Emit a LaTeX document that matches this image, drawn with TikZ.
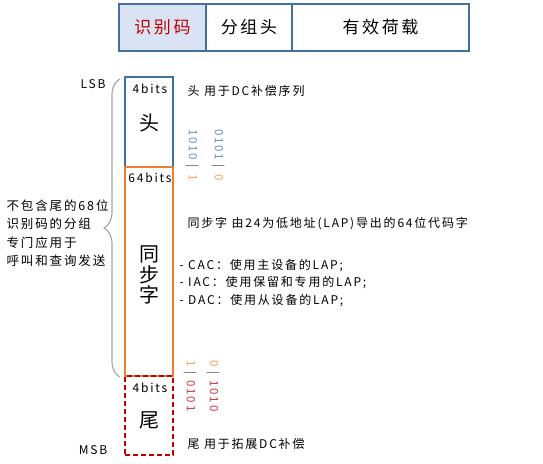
\documentclass[tikz,border=0pt]{standalone}
\usepackage{fontspec}
\setmainfont{Noto Sans CJK SC}
\newfontfamily\notefont[LetterSpace=15]{Noto Sans CJK SC}
\usepackage{tikz}
\usetikzlibrary{positioning, decorations.pathreplacing}
\definecolor{barblue}{HTML}{41719C}
\definecolor{idfill}{HTML}{DAE3F3}
\definecolor{idred}{HTML}{C00000}
\definecolor{syncorange}{HTML}{ED7D31}
\definecolor{tailred}{HTML}{C00000}
\definecolor{bitblue}{HTML}{6A8DC0}
\definecolor{bitorange}{HTML}{F4A15D}
\definecolor{bitred}{HTML}{D0393B}
\definecolor{bitgray}{HTML}{595959}
\definecolor{bracegray}{HTML}{A6A6A6}
\newcommand{\bitpair}[2]{#1\hspace{5pt}\textcolor{bitgray}{|}\hspace{6pt}#2}

\begin{document}
\begin{tikzpicture}[x=1pt,y=-1pt,
  cell/.style={draw=barblue, line width=2.5pt, minimum height=47pt, inner sep=0pt, outer sep=0pt, font=\notefont\fontsize{17}{17}\selectfont},
  field/.style={line width=2pt, minimum width=48pt, inner sep=0pt, outer sep=0pt},
  small/.style={font=\notefont\fontsize{12}{17.2}\selectfont},
  big/.style={font=\fontsize{20}{20.5}\selectfont},
  bits/.style={font=\notefont\fontsize{11.5}{11.5}\selectfont, rotate=-90, anchor=west, inner sep=0pt}]

\useasboundingbox (0,0) rectangle (543,463);

\node[cell, fill=idfill, text=idred, minimum width=87pt] (id) at (162.5,27.5) {识别码};
\node[cell, minimum width=86pt, right=0pt of id] (pkthead) {分组头};
\node[cell, minimum width=177pt, right=0pt of pkthead] (payload) {有效荷载};

\node[field, draw=barblue, minimum height=90pt] (head) at (149,122) {};
\node[field, draw=syncorange, minimum height=209pt, below=0pt of head] (sync) {};
\node[field, draw=tailred, dash pattern=on 5pt off 3pt, minimum height=79pt, below=0pt of sync] (tail) {};

\node[small] (headbits) at (150,89) {4bits};
\node[big] (headname) at (149,123) {头};
\node[small] (syncbits) at (150,178) {64bits};
\node[big, align=center] (syncname) at (149,275) {同\\步\\字};
\node[small] (tailbits) at (150,388) {4bits};
\node[big] (tailname) at (149,420) {尾};

\node[small] (lsb) at (93,84) {LSB};
\node[small] (msb) at (93,450) {MSB};

\coordinate (bracelow) at (120,377);
\coordinate (bracehigh) at (120,79);
\draw[bracegray, line width=1.2pt, decorate, decoration={brace, amplitude=16pt}] (bracelow) -- (bracehigh);
\node[align=left, anchor=west, font=\notefont\fontsize{12.5}{18.5}\selectfont] (scope) at (3,233) {不包含尾的68位\\识别码的分组\\专门应用于\\呼叫和查询发送};

\node[small, anchor=west] (headnote) at (184,91) {头\ 用于DC补偿序列};
\node[small, anchor=west] (syncnote) at (184,224) {同步字\ 由24为低地址(LAP)导出的64位代码字};
\node[small, anchor=west, align=left] (codes) at (176,283) {-\ CAC：使用主设备的LAP;\\-\ IAC：使用保留和专用的LAP;\\-\ DAC：使用从设备的LAP;};
\node[small, anchor=west] (tailnote) at (184,444) {尾\ 用于拓展DC补偿};

\node[bits] (headbitsa) at (192,129) {\bitpair{\textcolor{bitblue}{1010}}{\textcolor{bitorange}{1}}};
\node[bits] (headbitsb) at (218,129) {\bitpair{\textcolor{bitblue}{0101}}{\textcolor{bitorange}{0}}};
\node[bits] (tailbitsa) at (190,360) {\bitpair{\textcolor{bitorange}{1}}{\textcolor{bitred}{0101}}};
\node[bits] (tailbitsb) at (213,360) {\bitpair{\textcolor{bitorange}{0}}{\textcolor{bitred}{1010}}};
\end{tikzpicture}
\end{document}
